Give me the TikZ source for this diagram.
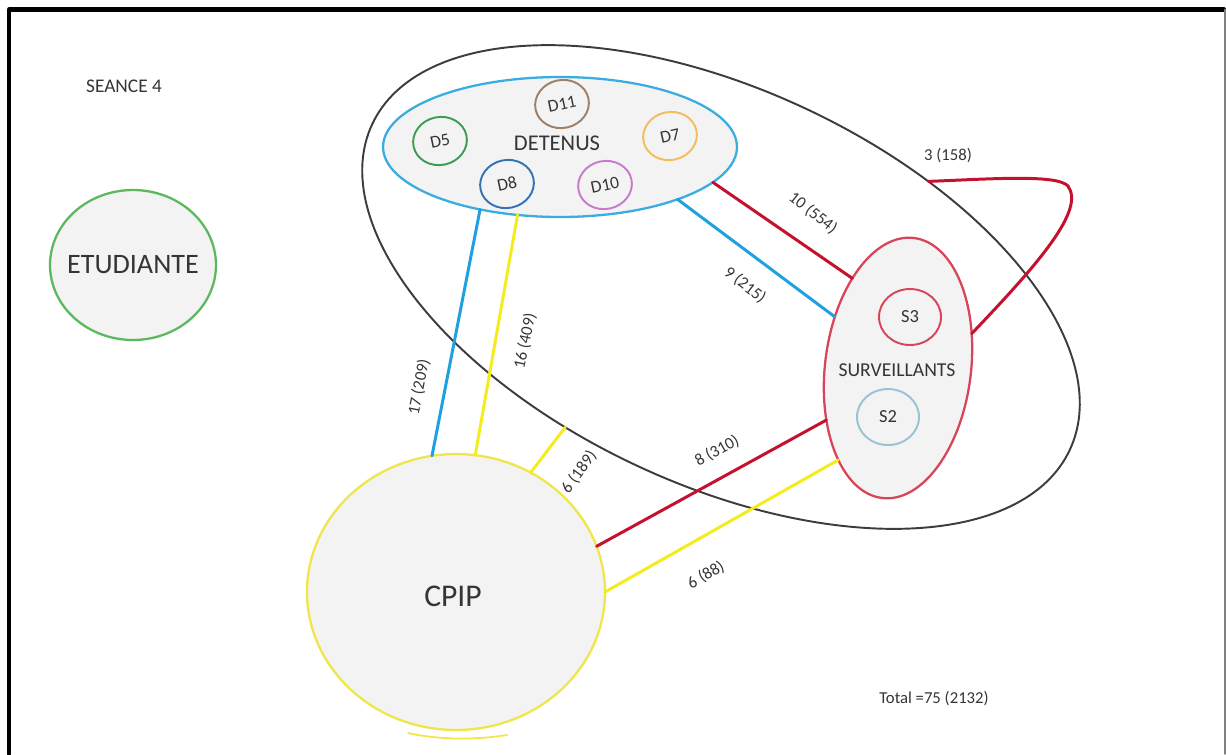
\documentclass[tikz,border=0pt]{standalone}
\usepackage{fontspec}
\setmainfont{Carlito}
\usetikzlibrary{shapes.geometric}
\definecolor{txtgray}{HTML}{353535}
\definecolor{bgfill}{HTML}{F3F3F4}
\definecolor{grpgray}{HTML}{3C3C3C}
\definecolor{cblue}{HTML}{1FA0E0}
\definecolor{cyell}{HTML}{F4EC1C}
\definecolor{cred}{HTML}{C4122E}
\definecolor{cpipyel}{HTML}{EFE64A}
\definecolor{detblue}{HTML}{3AADE0}
\definecolor{etugreen}{HTML}{5CB85C}
\definecolor{dgreen}{HTML}{3F9C55}
\definecolor{dbrown}{HTML}{9C8068}
\definecolor{dorange}{HTML}{F2BE5A}
\definecolor{dblue}{HTML}{3572B5}
\definecolor{dpurple}{HTML}{C77BCB}
\definecolor{sred}{HTML}{D8455A}
\definecolor{slblue}{HTML}{98C3D3}
\begin{document}
\begin{tikzpicture}[x=.02cm,y=-.02cm,line join=round,line cap=round,font=\fontsize{9.5}{11}\selectfont,
	every node/.style={text=txtgray},
	blob/.style={ellipse,fill=bgfill,line width=1.3pt,inner sep=0pt,outer sep=0pt},
	dcirc/.style={blob,line width=1.1pt,minimum width=1.08cm,minimum height=.96cm,rotate=12,font=\fontsize{10}{12}\selectfont},
	scirc/.style={blob,line width=1.1pt,minimum width=1.24cm,minimum height=1.12cm,font=\fontsize{10.5}{12}\selectfont},
	link/.style={line width=1.7pt},
	val/.style={inner sep=0pt}]
	\useasboundingbox (0,0) rectangle (1226,754);
	\draw[line width=2.3pt] (9,754)--(9,9.5)--(1224,9.5);
	\draw[gray,line width=1pt] (1225,9.5)--(1225,754);
	\node[val,font=\fontsize{11}{13}\selectfont] (seance) at (124,86) {SEANCE 4};
	\node[val] (total) at (934,699) {Total =75 (2132)};
	\node[blob,draw=etugreen,minimum width=3.32cm,minimum height=3cm] (etu) at (133,265) {};
	\node[font=\fontsize{16}{19}\selectfont] (etulbl) at (etu) {ETUDIANTE};
	\node[ellipse,draw=grpgray,line width=1.1pt,inner sep=0pt,outer sep=0pt,minimum width=15.4cm,minimum height=7.9cm,rotate=-25] (grp) at (721,287) {};
	\node[blob,draw=detblue,minimum width=7.08cm,minimum height=2.8cm] (det) at (560,147) {};
	\node[font=\fontsize{12.8}{15}\selectfont] (detlbl) at (557,143) {DETENUS};
	\node[dcirc,draw=dgreen] (d5) at (440,141) {D5};
	\node[dcirc,draw=dbrown] (d11) at (562,104) {D11};
	\node[dcirc,draw=dorange] (d7) at (670,136) {D7};
	\node[dcirc,draw=dblue] (d8) at (507,184) {D8};
	\node[dcirc,draw=dpurple] (d10) at (605,185) {D10};
	\node[blob,draw=sred,minimum width=2.92cm,minimum height=5.24cm,rotate=-7] (surv) at (898,368) {};
	\node[font=\fontsize{11.2}{13}\selectfont] (survlbl) at (897,370) {SURVEILLANTS};
	\node[scirc,draw=sred] (s3) at (910,317) {S3};
	\node[scirc,draw=slblue] (s2) at (888,417) {S2};
	\node[blob,draw=cpipyel,minimum width=5.96cm,minimum height=5.52cm] (cpip) at (456,592) {};
	\node[font=\fontsize{18}{21}\selectfont] (cpiplbl) at (453,596) {CPIP};
	\draw[cpipyel,line width=1pt] (408,733) .. controls (440,740) and (475,740) .. (507,735);
	\draw[link,cblue] (det.218)--(cpip.100);
	\draw[link,cyell] (det.238)--(cpip.82);
	\draw[link,cyell] (cpip.58)--(grp.247);
	\draw[link,cred] (cpip.18)--(surv.223);
	\draw[link,cyell] (cpip.0)--(surv.244);
	\draw[link,cred] (det.347)--(surv.124);
	\draw[link,cblue] (det.336)--(surv.148);
	\draw[link,cred] (surv.32) .. controls (1040,262) and (1085,210) .. (1068,186) .. controls (1057,174) and (990,179) .. (grp.52);
	\node[val,rotate=79] (l17) at (419,387) {17 (209)};
	\node[val,rotate=78] (l16) at (525,341) {16 (409)};
	\node[val,rotate=54] (l6a) at (579,472) {6 (189)};
	\node[val,rotate=29] (l8) at (717,451) {8 (310)};
	\node[val,rotate=30] (l6b) at (706,575) {6 (88)};
	\node[val,rotate=-38] (l10) at (813,213) {10 (554)};
	\node[val,rotate=-38] (l9) at (745,285) {9 (215)};
	\node[val] (l3) at (948,156) {3 (158)};
\end{tikzpicture}
\end{document}
